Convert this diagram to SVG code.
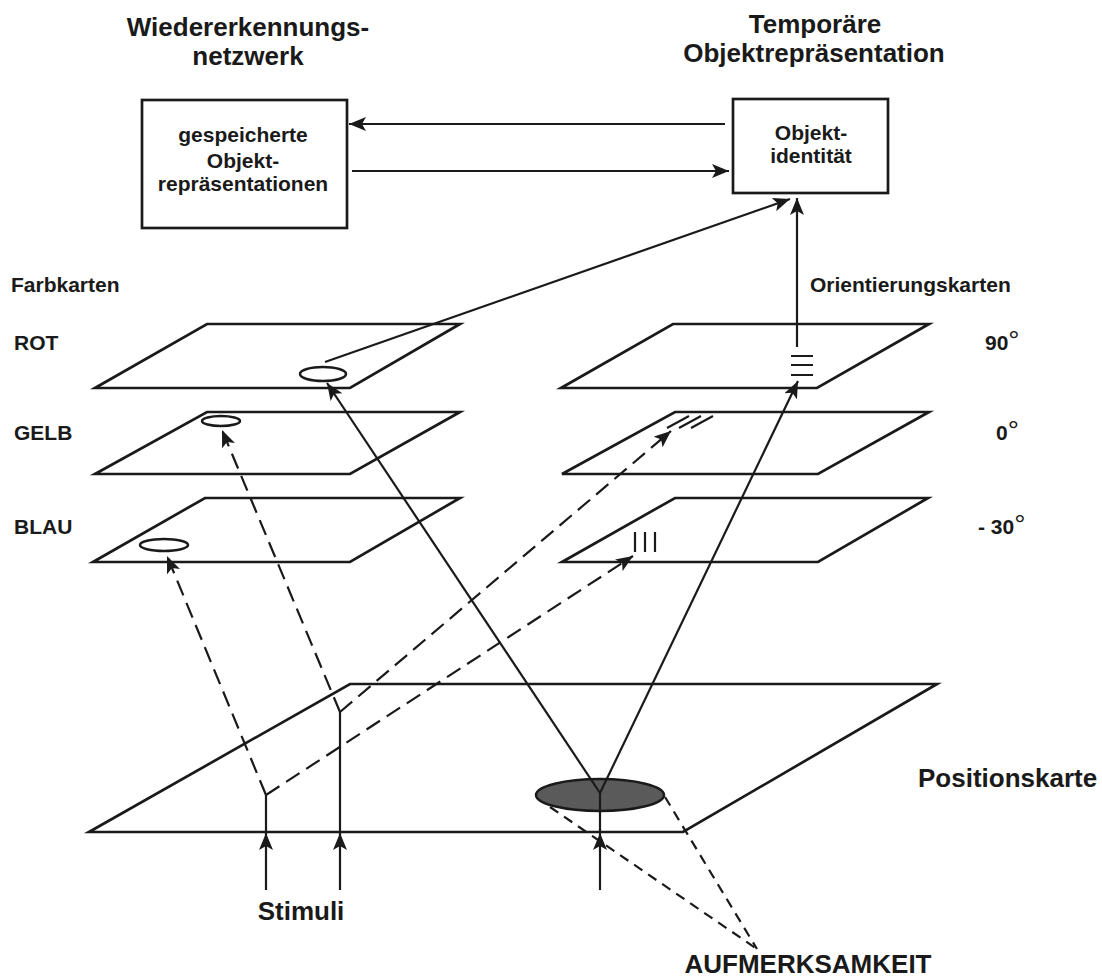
<svg xmlns="http://www.w3.org/2000/svg" width="1102" height="979" viewBox="0 0 1102 979">
<style>
text{font-family:"Liberation Sans",Arial,Helvetica,sans-serif;font-weight:bold;fill:#1a1a1a}
.t26{font-size:26px}
.t21{font-size:21px}
.c{text-anchor:middle}
.box{fill:#fff;stroke:#1a1a1a;stroke-width:2.7}
.plane{fill:none;stroke:#1a1a1a;stroke-width:2.7;stroke-linejoin:miter}
.ln{fill:none;stroke:#1a1a1a;stroke-width:2.2}
.dl{fill:none;stroke:#1a1a1a;stroke-width:2.2;stroke-dasharray:16 8}
.ds{fill:none;stroke:#1a1a1a;stroke-width:2.2;stroke-dasharray:10 7}
.el{fill:#fff;stroke:#1a1a1a;stroke-width:2.5}
.deg{font-weight:normal;font-size:28px}
</style>
<defs>
<marker id="ah" markerUnits="userSpaceOnUse" markerWidth="18" markerHeight="14" refX="17" refY="7" orient="auto">
<path d="M0,0 L17,7 L0,14 L4,7 z" fill="#1a1a1a"/>
</marker>
</defs>

<g id="titles">
<text class="t26 c" x="248" y="36">Wiedererkennungs-</text>
<text class="t26 c" x="248" y="65">netzwerk</text>
<text class="t26 c" x="815" y="33">Temporäre</text>
<text class="t26 c" x="814" y="62">Objektrepräsentation</text>
</g>

<g id="node-gespeichert">
<rect class="box" x="142" y="100" width="205" height="128"/>
<text class="t21 c" x="243" y="142">gespeicherte</text>
<text class="t21 c" x="243" y="168">Objekt-</text>
<text class="t21 c" x="243" y="191">repräsentationen</text>
</g>

<g id="node-identitaet">
<rect class="box" x="733" y="99" width="155" height="94"/>
<text class="t21 c" x="811" y="140">Objekt-</text>
<text class="t21 c" x="811" y="163">identität</text>
</g>

<g id="labels">
<text class="t21" x="11" y="292">Farbkarten</text>
<text class="t21" x="810" y="292">Orientierungskarten</text>
<text class="t21" x="14" y="350">ROT</text>
<text class="t21" x="14" y="440">GELB</text>
<text class="t21" x="14" y="534">BLAU</text>
<text class="t21" x="985" y="350">90<tspan class="deg">°</tspan></text>
<text class="t21" x="996" y="440">0<tspan class="deg">°</tspan></text>
<text class="t21" x="978" y="534">- 30<tspan class="deg">°</tspan></text>
<text class="t26" x="918" y="787">Positionskarte</text>
<text class="t26 c" x="301" y="920">Stimuli</text>
<text class="t26 c" x="808" y="973">AUFMERKSAMKEIT</text>
</g>

<g id="map-rot">
<polygon class="plane" points="207,324 460,324 350,388 95,388"/>
<ellipse class="el" cx="323" cy="374" rx="23" ry="7"/>
</g>
<g id="map-gelb">
<polygon class="plane" points="207,412 460,412 350,474 95,474"/>
<ellipse class="el" cx="221" cy="421" rx="19" ry="5"/>
</g>
<g id="map-blau">
<polygon class="plane" points="205,498 460,498 350,562 93,562"/>
<ellipse class="el" cx="164" cy="545" rx="24" ry="6"/>
</g>
<g id="map-90">
<polygon class="plane" points="673,324 929,324 817,388 561,388"/>
<path class="ln" d="M791,356 H813 M791,365 H813 M791,375 H813"/>
</g>
<g id="map-0">
<polygon class="plane" points="675,412 929,412 818,474 562,474"/>
<path class="ln" d="M667,428 L689,416 M679,428 L701,416 M691,428 L713,416"/>
</g>
<g id="map-30">
<polygon class="plane" points="675,498 928,498 818,562 562,562"/>
<path class="ln" d="M635,532 V552 M645,532 V552 M655,532 V552"/>
</g>
<g id="map-position">
<polygon class="plane" points="350,684 937,684 683,832 89,832"/>
<ellipse cx="600" cy="795" rx="64" ry="16" fill="#5a5a5a" stroke="#1a1a1a" stroke-width="2.5"/>
</g>

<g id="connectors">
<line class="ln" x1="725" y1="124" x2="349" y2="124" marker-end="url(#ah)"/>
<line class="ln" x1="352" y1="171" x2="729" y2="171" marker-end="url(#ah)"/>
<line class="ln" x1="325" y1="362" x2="790" y2="199" marker-end="url(#ah)"/>
<line class="ln" x1="797" y1="347" x2="797" y2="198" marker-end="url(#ah)"/>

<line class="ln" x1="266" y1="890" x2="266" y2="833" marker-end="url(#ah)"/>
<line class="ln" x1="266" y1="833" x2="266" y2="795"/>
<line class="ln" x1="340" y1="890" x2="340" y2="833" marker-end="url(#ah)"/>
<line class="ln" x1="340" y1="833" x2="340" y2="712"/>
<line class="ln" x1="600" y1="890" x2="600" y2="833" marker-end="url(#ah)"/>
<line class="ln" x1="600" y1="833" x2="600" y2="793"/>

<line class="dl" x1="266" y1="795" x2="167" y2="556" marker-end="url(#ah)"/>
<line class="dl" x1="266" y1="795" x2="633" y2="556" marker-end="url(#ah)"/>
<line class="dl" x1="340" y1="712" x2="222" y2="430" marker-end="url(#ah)"/>
<line class="dl" x1="340" y1="712" x2="671" y2="431" marker-end="url(#ah)"/>

<line class="ln" x1="600" y1="793" x2="327" y2="383" marker-end="url(#ah)"/>
<line class="ln" x1="600" y1="793" x2="798" y2="381" marker-end="url(#ah)"/>

<line class="ds" x1="550" y1="807" x2="757" y2="949"/>
<line class="ds" x1="665" y1="797" x2="757" y2="949"/>
</g>
</svg>
